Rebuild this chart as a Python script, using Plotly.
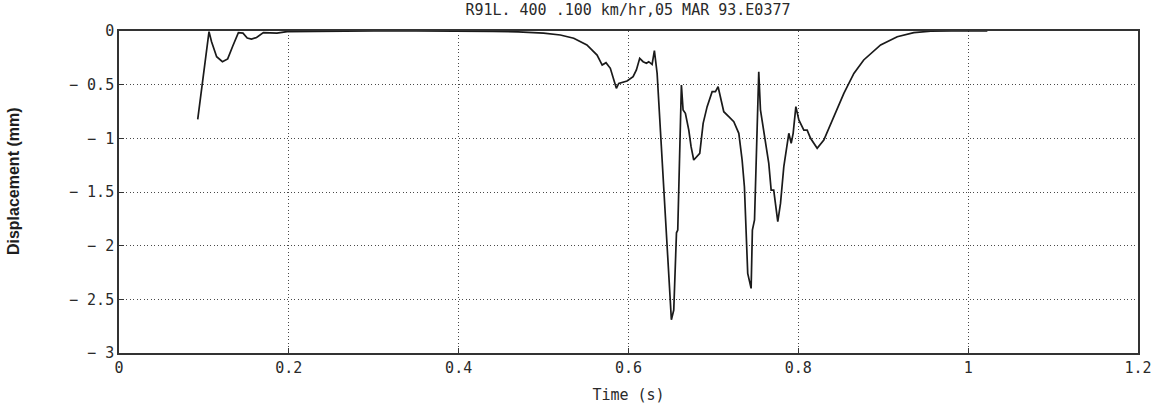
import plotly.graph_objects as go

# Rail displacement trace, R91L run of 05 MAR 93
time_s = [0.0927, 0.106, 0.109, 0.115, 0.1218, 0.128, 0.134, 0.1406, 0.146, 0.151, 0.156,
          0.162, 0.170, 0.186, 0.198, 0.25, 0.3, 0.35, 0.4, 0.44, 0.47, 0.5, 0.5197, 0.5355,
          0.551, 0.563, 0.569, 0.5735, 0.5786, 0.5857, 0.5885, 0.5924, 0.5983, 0.6054,
          0.6093, 0.6132, 0.6172, 0.6211, 0.6238, 0.6278, 0.6305, 0.6337, 0.6376, 0.6415,
          0.6455, 0.6505, 0.6533, 0.6565, 0.658, 0.6604, 0.6623, 0.6643, 0.667, 0.671,
          0.6737, 0.6768, 0.6808, 0.6839, 0.6879, 0.6926, 0.6985, 0.7024, 0.7055, 0.7083,
          0.7122, 0.7181, 0.724, 0.7299, 0.7338, 0.7365, 0.7389, 0.7404, 0.7444, 0.7459,
          0.7484, 0.7507, 0.7534, 0.7554, 0.7593, 0.7625, 0.7652, 0.768, 0.771, 0.7758,
          0.779, 0.7829, 0.7869, 0.7888, 0.7916, 0.7939, 0.7971, 0.8006, 0.8065, 0.8104,
          0.8144, 0.8222, 0.83, 0.842, 0.8536, 0.8654, 0.877, 0.8969, 0.9165, 0.936, 0.956,
          0.98, 1.0226]
displacement_mm = [-0.823, -0.006, -0.1, -0.24, -0.286, -0.26, -0.14, -0.015, -0.02, -0.065,
                   -0.075, -0.06, -0.015, -0.02, -0.005, 0.0, 0.0, 0.0, 0.0, -0.003, -0.009,
                   -0.02, -0.037, -0.068, -0.13, -0.224, -0.317, -0.295, -0.348, -0.534, -0.488,
                   -0.482, -0.466, -0.426, -0.363, -0.255, -0.286, -0.301, -0.286, -0.311,
                   -0.183, -0.395, -0.923, -1.48, -2.07, -2.69, -2.6, -1.88, -1.855, -1.14,
                   -0.503, -0.736, -0.767, -0.923, -1.078, -1.202, -1.171, -1.14, -0.86, -0.705,
                   -0.565, -0.565, -0.519, -0.627, -0.752, -0.798, -0.845, -0.953, -1.202,
                   -1.451, -1.917, -2.258, -2.398, -1.855, -1.761, -1.14, -0.379, -0.736,
                   -0.923, -1.109, -1.233, -1.482, -1.482, -1.777, -1.606, -1.264, -1.016,
                   -0.953, -1.047, -0.953, -0.705, -0.829, -0.923, -0.923, -1.0, -1.093, -1.016,
                   -0.798, -0.581, -0.395, -0.27, -0.13, -0.053, -0.015, -0.002, 0.0, 0.0]

x_ticks = [0, 0.2, 0.4, 0.6, 0.8, 1.0, 1.2]
x_tick_labels = ["0", "0.2", "0.4", "0.6", "0.8", "1", "1.2"]
y_ticks = [0, -0.5, -1, -1.5, -2, -2.5, -3]
y_tick_labels = ["0", "\u2212\u20020.5", "\u2212\u20021", "\u2212\u20021.5", "\u2212\u20022",
                 "\u2212\u20022.5", "\u2212\u20023"]

title_text = "R91L. 400 .100 km/hr,05 MAR 93.E0377"
x_title = "Time (s)"
y_title = "Displacement (mm)"

INK = "#2a2a2a"
WIDE = "DejaVu Sans Mono"

fig = go.Figure()
fig.add_trace(go.Scatter(
    x=time_s, y=displacement_mm, mode="lines",
    line=dict(color="#1a1a1a", width=1.7), showlegend=False,
))

axis_common = dict(
    showline=True, linecolor="#333", linewidth=1.6, mirror=True,
    showgrid=True, gridcolor="#4a4a4a", griddash="1.3px,2.2px", gridwidth=1.4,
    ticks="inside", ticklen=5, tickcolor="#333", zeroline=False,
    tickfont=dict(family=WIDE, size=15, color=INK),
)

fig.update_layout(
    width=1165, height=414,
    paper_bgcolor="white", plot_bgcolor="white",
    margin=dict(l=119, r=27, t=31, b=61),
    title=dict(text=title_text, x=0.539, xanchor="center", y=0.976, yanchor="middle",
               font=dict(family=WIDE, size=15, color=INK)),
    xaxis=dict(range=[0, 1.2], tickvals=x_ticks, ticktext=x_tick_labels,
               title=dict(text=x_title, font=dict(family=WIDE, size=15, color=INK),
                          standoff=14),
               **axis_common),
    yaxis=dict(range=[-3, 0], tickvals=y_ticks, ticktext=y_tick_labels,
               **axis_common),
)

# Condensed vertical axis caption placed at the far left edge
fig.add_annotation(
    text=y_title, textangle=-90, showarrow=False,
    xref="paper", yref="paper", x=-0.104, y=0.534, xanchor="center", yanchor="middle",
    font=dict(family="Liberation Sans Narrow, Liberation Sans", size=16, color="#1e1e1e",
              weight="bold"),
)

fig.write_html("out.html")
